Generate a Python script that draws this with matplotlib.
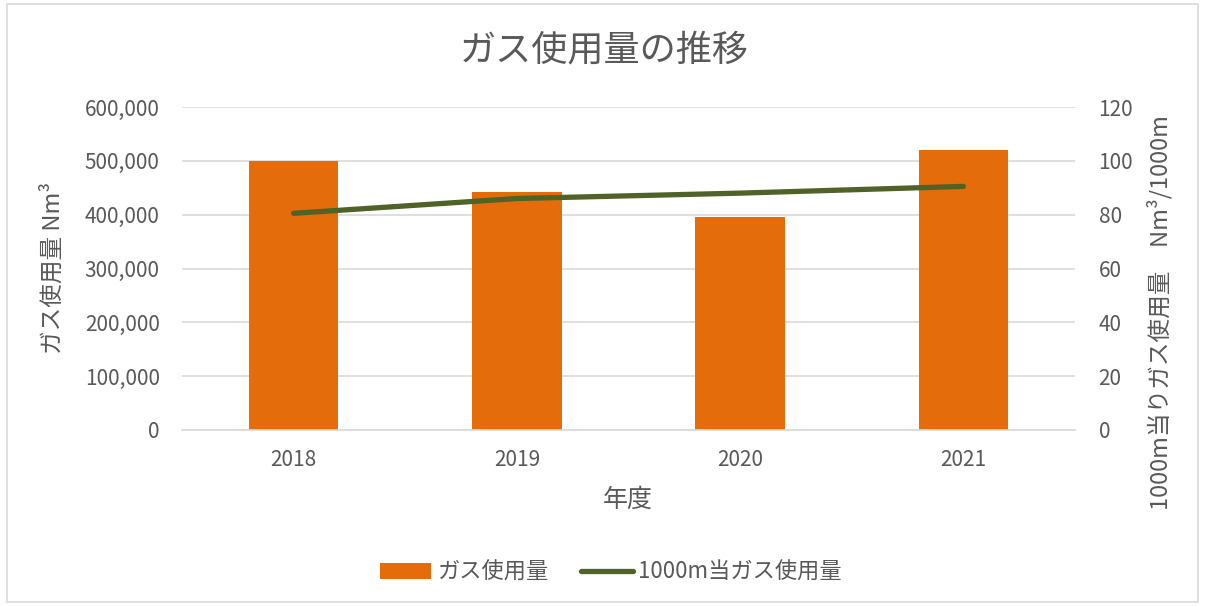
import matplotlib
matplotlib.use("Agg")
import matplotlib.pyplot as plt
from matplotlib.patches import Rectangle
from matplotlib.ticker import FuncFormatter, MultipleLocator

plt.rcParams['font.family'] = ['Noto Sans CJK JP', 'DejaVu Sans']

years = ["2018", "2019", "2020", "2021"]
gas_usage = [499000, 443000, 396000, 520000]
gas_per_1000m = [80.5, 86.0, 88.0, 90.5]

GRAY = "#595959"
W, H = 1205, 606
fig = plt.figure(figsize=(W / 100, H / 100), dpi=100)
fig.patches.append(Rectangle((0.006, 0.006), 0.988, 0.988, transform=fig.transFigure,
                             fill=False, edgecolor="#d9d9d9", linewidth=1.2))
ax = fig.add_axes([182 / W, 1 - 430 / H, (1075 - 182) / W, (430 - 107) / H])
x = range(len(years))
ax.bar(x, gas_usage, width=0.40, color="#e46c0a", label="ガス使用量", zorder=2)
ax.set_xlim(-0.5, 3.5)
ax.set_ylim(0, 600000)
ax.yaxis.set_major_locator(MultipleLocator(100000))
ax.yaxis.set_major_formatter(FuncFormatter(lambda v, p: f"{int(v):,}"))
ax.set_xticks(list(x))
ax.set_xticklabels(years)
ax.grid(axis='y', color="#d9d9d9", linewidth=1.2, zorder=0)
for s in ['top', 'right', 'left']:
    ax.spines[s].set_visible(False)
ax.spines['bottom'].set_color("#d9d9d9")
ax.spines['bottom'].set_linewidth(1.2)
ax.tick_params(axis='y', length=0, labelsize=15, colors=GRAY, pad=16)
ax.tick_params(axis='x', length=0, labelsize=15, colors=GRAY, pad=14)
ax.set_axisbelow(True)

ax2 = ax.twinx()
ax2.plot(list(x), gas_per_1000m, color="#4f6228", linewidth=3.8, solid_capstyle='round',
         label="1000m当ガス使用量", zorder=3)
ax2.set_ylim(0, 120)
ax2.yaxis.set_major_locator(MultipleLocator(20))
for s in ['top', 'right', 'left', 'bottom']:
    ax2.spines[s].set_visible(False)
ax2.tick_params(axis='y', length=0, labelsize=15, colors=GRAY, pad=17)

fig.text(604 / W, 1 - 50 / H, "ガス使用量の推移", ha='center', va='center', fontsize=26, color=GRAY)
fig.text(628 / W, 1 - 500 / H, "年度", ha='center', va='center', fontsize=18, color=GRAY)
fig.text(53 / W, 1 - 268 / H, "ガス使用量 Nm³", ha='center', va='center', rotation=90,
         fontsize=17, color=GRAY)
fig.text(1160 / W, 1 - 312 / H, "1000m当りガス使用量　Nm³/1000m", ha='center', va='center',
         rotation=90, fontsize=17, color=GRAY)

h1, l1 = ax.get_legend_handles_labels()
h2, l2 = ax2.get_legend_handles_labels()
fig.legend(h1 + h2, l1 + l2, loc='center', bbox_to_anchor=(611 / W, 1 - 572 / H), ncol=2, frameon=False,
           fontsize=16, labelcolor=GRAY, handlelength=2.3, handletextpad=0.25, columnspacing=1.5)

fig.savefig("out.png", dpi=100)
